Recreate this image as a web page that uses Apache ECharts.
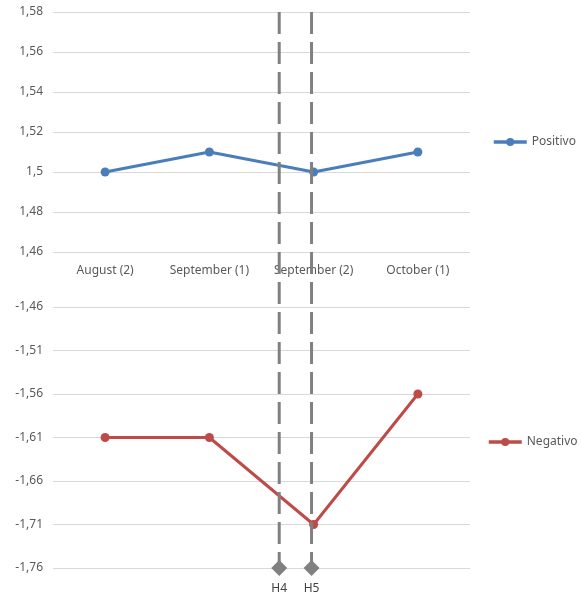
<!DOCTYPE html>
<html>
<head>
<meta charset="utf-8">
<script src="https://cdn.jsdelivr.net/npm/echarts@6/dist/echarts.min.js"></script>
<style>
  html, body { margin: 0; padding: 0; background: #fff; }
  #chart { width: 581px; height: 596px; }
</style>
</head>
<body>
<div id="chart"></div>
<script>
// Periods shown on the shared horizontal axis
const periods = ['August (2)', 'September (1)', 'September (2)', 'October (1)'];

// Upper panel: positive scores
const positivo = [1.50, 1.51, 1.50, 1.51];
// Lower panel: negative scores
const negativo = [-1.61, -1.61, -1.71, -1.56];

// Event markers placed between periods (in category-band units, 0..4)
const markerNames = ['H4', 'H5'];
const markerPositions = [2.17, 2.48];

// Axis ranges
const topRange = { min: 1.46, max: 1.58, step: 0.02 };
const bottomRange = { min: -1.76, max: -1.46, step: 0.05 };

const FONT = 'Noto Sans';
const LABEL_COLOR = '#595959';
const GRID_COLOR = '#d9d9d9';
const BLUE = '#4A7EBB';
const RED = '#BE4B48';

const fmt = v => String(+(+v).toFixed(2)).replace('.', ',');

const markerSeries = markerNames.map((name, i) => ({
  name: name,
  type: 'line',
  xAxisIndex: 2,
  yAxisIndex: 2,
  silent: true,
  z: 5,
  lineStyle: { color: '#808080', width: 3, type: [22, 8] },
  itemStyle: { color: '#808080' },
  data: [
    { value: [markerPositions[i], 1], symbol: 'none' },
    {
      value: [markerPositions[i], 0],
      symbol: 'diamond',
      symbolSize: 16,
      label: {
        show: true,
        position: 'bottom',
        distance: 7,
        formatter: name,
        color: '#404040',
        fontFamily: FONT,
        fontSize: 12
      }
    }
  ]
}));

function legendFor(name, left, top) {
  return {
    data: [name],
    left: left,
    top: top,
    itemWidth: 33,
    itemHeight: 10,
    itemGap: 2,
    lineStyle: { width: 3.5 },
    textStyle: { color: LABEL_COLOR, fontSize: 12, fontFamily: FONT }
  };
}

const option = {
  animation: false,
  backgroundColor: '#fff',
  textStyle: { fontFamily: FONT },
  legend: [
    legendFor('Positivo', 487, 131),
    legendFor('Negativo', 482, 431)
  ],
  grid: [
    { left: 53, width: 417, top: 12, height: 240 },
    { left: 53, width: 417, top: 307, height: 261 },
    { left: 53, width: 417, top: 12, height: 556 }
  ],
  xAxis: [
    {
      type: 'category',
      gridIndex: 0,
      data: periods,
      boundaryGap: true,
      axisLine: { show: false },
      axisTick: { show: false },
      axisLabel: { color: LABEL_COLOR, fontSize: 12, fontFamily: FONT, margin: 13 }
    },
    {
      type: 'category',
      gridIndex: 1,
      data: periods,
      boundaryGap: true,
      axisLine: { show: false },
      axisTick: { show: false },
      axisLabel: { show: false }
    },
    {
      type: 'value',
      gridIndex: 2,
      min: 0,
      max: 4,
      show: false
    }
  ],
  yAxis: [
    {
      type: 'value',
      gridIndex: 0,
      min: topRange.min,
      max: topRange.max,
      interval: topRange.step,
      axisLine: { show: false },
      axisTick: { show: false },
      axisLabel: { color: LABEL_COLOR, fontSize: 12, fontFamily: FONT, margin: 10, formatter: fmt },
      splitLine: { lineStyle: { color: GRID_COLOR, width: 1 } }
    },
    {
      type: 'value',
      gridIndex: 1,
      min: bottomRange.min,
      max: bottomRange.max,
      interval: bottomRange.step,
      axisLine: { show: false },
      axisTick: { show: false },
      axisLabel: { color: LABEL_COLOR, fontSize: 12, fontFamily: FONT, margin: 10, formatter: fmt },
      splitLine: { lineStyle: { color: GRID_COLOR, width: 1 } }
    },
    {
      type: 'value',
      gridIndex: 2,
      min: 0,
      max: 1,
      show: false
    }
  ],
  series: [
    {
      name: 'Positivo',
      type: 'line',
      xAxisIndex: 0,
      yAxisIndex: 0,
      data: positivo,
      symbol: 'circle',
      symbolSize: 9,
      z: 3,
      lineStyle: { color: BLUE, width: 3 },
      itemStyle: { color: BLUE }
    },
    {
      name: 'Negativo',
      type: 'line',
      xAxisIndex: 1,
      yAxisIndex: 1,
      data: negativo,
      symbol: 'circle',
      symbolSize: 9,
      z: 3,
      lineStyle: { color: RED, width: 3 },
      itemStyle: { color: RED }
    },
    ...markerSeries
  ]
};

const chart = echarts.init(document.getElementById('chart'), null, { renderer: 'canvas' });
chart.setOption(option);
</script>
</body>
</html>
